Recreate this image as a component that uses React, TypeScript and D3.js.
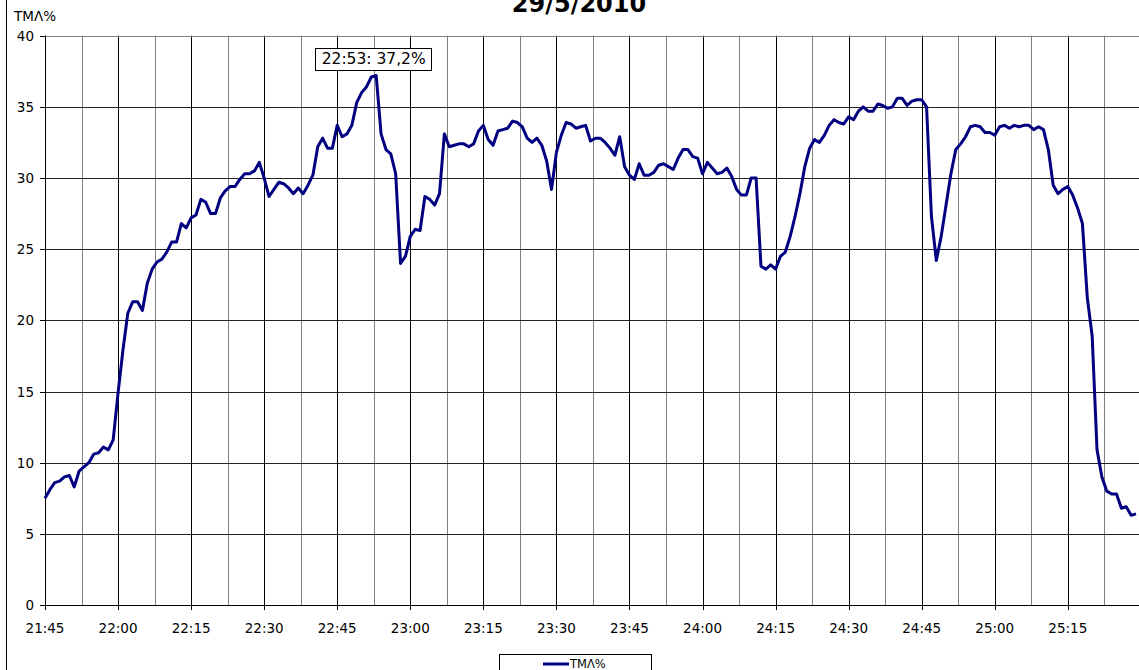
import React from "react";
import * as d3 from "d3";

const TITLE = "29/5/2010";
const SERIES_NAME = "ΤΜΛ%";
const Y_LABEL = "ΤΜΛ%";

// one value per minute, starting 21:45
const tmlValues: number[] = [
  7.5, 8.1, 8.6, 8.7, 9.0, 9.1, 8.3, 9.4, 9.7, 10.0,
  10.6, 10.7, 11.1, 10.9, 11.6, 14.9, 17.9, 20.5, 21.3, 21.3,
  20.7, 22.6, 23.6, 24.1, 24.3, 24.8, 25.5, 25.5, 26.8, 26.5,
  27.2, 27.4, 28.5, 28.3, 27.5, 27.5, 28.6, 29.1, 29.4, 29.4,
  29.9, 30.3, 30.3, 30.5, 31.1, 30.0, 28.7, 29.2, 29.7, 29.6,
  29.3, 28.9, 29.3, 28.9, 29.5, 30.2, 32.2, 32.8, 32.1, 32.1,
  33.7, 32.9, 33.1, 33.7, 35.3, 36.0, 36.4, 37.1, 37.2, 33.1,
  32.0, 31.7, 30.3, 24.0, 24.5, 25.9, 26.4, 26.3, 28.7, 28.5,
  28.1, 28.9, 33.1, 32.2, 32.3, 32.4, 32.4, 32.2, 32.4, 33.3,
  33.7, 32.7, 32.3, 33.3, 33.4, 33.5, 34.0, 33.9, 33.6, 32.8,
  32.5, 32.8, 32.3, 31.2, 29.2, 31.8, 33.0, 33.9, 33.8, 33.5,
  33.6, 33.7, 32.6, 32.8, 32.8, 32.5, 32.1, 31.6, 32.9, 30.8,
  30.2, 29.9, 31.0, 30.2, 30.2, 30.4, 30.9, 31.0, 30.8, 30.6,
  31.4, 32.0, 32.0, 31.5, 31.4, 30.3, 31.1, 30.7, 30.3, 30.4,
  30.7, 30.1, 29.2, 28.8, 28.8, 30.0, 30.0, 23.8, 23.6, 23.9,
  23.6, 24.5, 24.8, 25.9, 27.3, 28.9, 30.8, 32.1, 32.7, 32.5,
  33.0, 33.7, 34.1, 33.9, 33.8, 34.3, 34.1, 34.7, 35.0, 34.7,
  34.7, 35.2, 35.1, 34.9, 35.0, 35.6, 35.6, 35.1, 35.4, 35.5,
  35.5, 35.0, 27.3, 24.2, 25.9, 28.1, 30.3, 32.0, 32.4, 32.9,
  33.6, 33.7, 33.6, 33.2, 33.2, 33.0, 33.6, 33.7, 33.5, 33.7,
  33.6, 33.7, 33.7, 33.4, 33.6, 33.4, 32.0, 29.5, 28.9, 29.2,
  29.4, 28.8, 27.9, 26.8, 21.6, 18.9, 10.9, 9.0, 8.0, 7.8,
  7.8, 6.8, 6.9, 6.3, 6.4,
];

const xTickLabels = [
  "21:45", "22:00", "22:15", "22:30", "22:45", "23:00", "23:15", "23:30",
  "23:45", "24:00", "24:15", "24:30", "24:45", "25:00", "25:15",
];
const yTickValues = [0, 5, 10, 15, 20, 25, 30, 35, 40];
const PEAK_INDEX = 68;
const PEAK_LABEL = "22:53: 37,2%";

const W = 1139;
const H = 670;
const FONT = "'DejaVu Sans', Verdana, sans-serif";

export default function App() {
  const n = tmlValues.length;
  const x = d3.scaleLinear().domain([0, n - 1]).range([45, 1136]);
  const y = d3.scaleLinear().domain([0, 40]).range([605, 35.7]);
  const step = 15;

  const line = d3
    .line<number>()
    .x((_, i) => x(i))
    .y((d) => y(d));

  const majorIdx = xTickLabels.map((_, k) => k * step);
  const minorIdx: number[] = [];
  for (let k = 0; k * step + step / 2 <= n + step; k++) minorIdx.push(k * step + step / 2);

  const px = x(PEAK_INDEX);
  const py = y(tmlValues[PEAK_INDEX]);
  const boxW = 116;
  const boxH = 22;
  const boxX = px - 61;
  const boxY = py - 6 - boxH;

  const plotLeft = 45;
  const plotRight = 1160;
  const plotTop = y(40);
  const plotBottom = y(0);

  return (
    <svg
      width={W}
      height={H}
      style={{ position: "absolute", left: 0, top: 0, display: "block", background: "#fff" }}
      fontFamily={FONT}
    >
      <rect x={0} y={0} width={W} height={H} fill="#fff" />
      {/* outer chart border */}
      <line x1={6.5} x2={6.5} y1={0} y2={H} stroke="#000" strokeWidth={1} />

      <text x={579} y={12} textAnchor="middle" fontWeight="bold" fontSize={24} fill="#000">
        {TITLE}
      </text>
      <text x={14} y={21} fontSize={13.5} fill="#000">
        {Y_LABEL}
      </text>

      {/* plot area */}
      <rect x={plotLeft} y={plotTop} width={plotRight - plotLeft} height={plotBottom - plotTop} fill="#fff" />

      {/* minor vertical gridlines */}
      {minorIdx.map((i) => (
        <line
          key={"mv" + i}
          x1={Math.round(x(i)) + 0.5}
          x2={Math.round(x(i)) + 0.5}
          y1={plotTop}
          y2={plotBottom}
          stroke="#808080"
          strokeWidth={1}
        />
      ))}
      {/* major vertical gridlines */}
      {majorIdx.map((i) => (
        <line
          key={"Mv" + i}
          x1={Math.round(x(i)) + 0.5}
          x2={Math.round(x(i)) + 0.5}
          y1={plotTop}
          y2={plotBottom}
          stroke="#000"
          strokeWidth={1}
        />
      ))}
      {/* horizontal gridlines */}
      {yTickValues.map((v) => (
        <line
          key={"h" + v}
          x1={plotLeft}
          x2={plotRight}
          y1={Math.round(y(v)) + 0.5}
          y2={Math.round(y(v)) + 0.5}
          stroke={v === 40 ? "#808080" : "#222"}
          strokeWidth={1}
        />
      ))}

      {/* axes */}
      <line x1={plotLeft + 0.5} x2={plotLeft + 0.5} y1={plotTop} y2={plotBottom} stroke="#000" />
      <line x1={plotLeft} x2={plotRight} y1={Math.round(plotBottom) + 0.5} y2={Math.round(plotBottom) + 0.5} stroke="#000" />
      {yTickValues.map((v) => (
        <g key={"yt" + v}>
          <line
            x1={40}
            x2={plotLeft}
            y1={Math.round(y(v)) + 0.5}
            y2={Math.round(y(v)) + 0.5}
            stroke="#000"
          />
          <text x={34} y={y(v) + 5} textAnchor="end" fontSize={13.5} fill="#000">
            {v}
          </text>
        </g>
      ))}
      {majorIdx.map((i, k) => (
        <g key={"xt" + i}>
          <line
            x1={Math.round(x(i)) + 0.5}
            x2={Math.round(x(i)) + 0.5}
            y1={plotBottom}
            y2={plotBottom + 5}
            stroke="#000"
          />
          <text x={x(i)} y={633} textAnchor="middle" fontSize={13.5} fill="#000">
            {xTickLabels[k]}
          </text>
        </g>
      ))}

      {/* series line */}
      <path
        d={line(tmlValues) || ""}
        fill="none"
        stroke="#000080"
        strokeWidth={3}
        strokeLinejoin="round"
      />

      {/* data label */}
      <rect x={Math.round(boxX) + 0.5} y={Math.round(boxY) + 0.5} width={boxW} height={boxH} fill="#fff" stroke="#000" />
      <text x={boxX + boxW / 2 + 0.5} y={boxY + 16.5} textAnchor="middle" fontSize={15.5} fill="#000">
        {PEAK_LABEL}
      </text>

      {/* legend */}
      <rect x={499.5} y={654.5} width={152} height={30} fill="#fff" stroke="#000" />
      <line x1={543} x2={569} y1={664} y2={664} stroke="#000080" strokeWidth={3} />
      <text x={570} y={668} fontSize={11.5} fill="#000">
        {SERIES_NAME}
      </text>
    </svg>
  );
}
